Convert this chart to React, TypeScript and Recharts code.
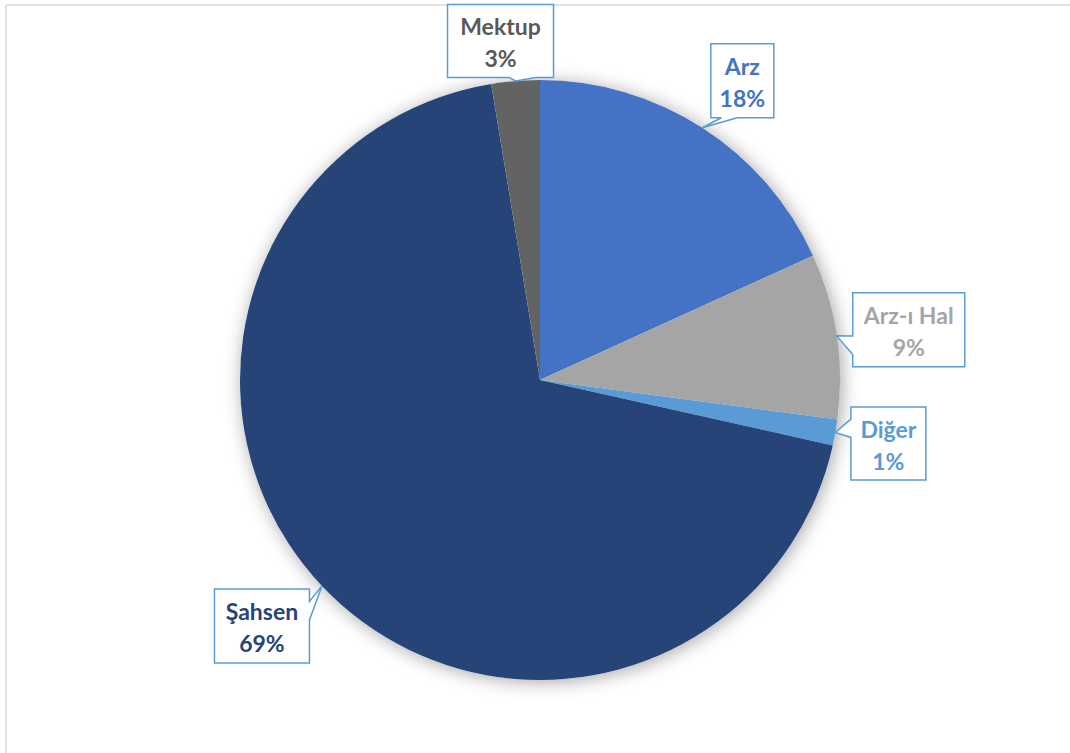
import { PieChart, Pie, Cell } from "recharts";

// values (percent of total), clockwise from 12 o'clock
const categories = ["Arz", "Arz-ı Hal", "Diğer", "Şahsen", "Mektup"];
const shares = [18.2, 8.9, 1.4, 68.9, 2.6];
const pctLabels = ["18%", "9%", "1%", "69%", "3%"];

const sliceColors = ["#4472C4", "#A5A5A5", "#5B9BD5", "#264478", "#636363"];
const textColors = ["#4472C4", "#A5A5A5", "#5B9BD5", "#264478", "#595959"];

// callout box: centre offset from the wedge tip, and box size
const callouts: Record<string, { dx: number; dy: number; w: number; h: number }> = {
  Arz: { dx: 40, dy: -47, w: 63, h: 74 },
  "Arz-ı Hal": { dx: 72, dy: -6, w: 112, h: 74 },
  Diğer: { dx: 53, dy: 11, w: 75, h: 73 },
  Şahsen: { dx: -60, dy: 40, w: 95, h: 74 },
  Mektup: { dx: -15, dy: -40, w: 106, h: 73 },
};

const pieData = categories.map((name, i) => ({ name, value: shares[i], pct: pctLabels[i] }));
const backdrop = [{ name: "bg", value: 1 }];

const RAD = Math.PI / 180;

// Excel-style wedgeRectCallout outline
function calloutPath(l: number, t: number, w: number, h: number, tx: number, ty: number) {
  const r = l + w;
  const b = t + h;
  const dx = tx - (l + w / 2);
  const dy = ty - (t + h / 2);
  const dq = (dx * h) / w;
  const vertical = Math.abs(dy) - Math.abs(dq) > 0;
  const x1 = l + (w * (dx > 0 ? 7 : 2)) / 12;
  const x2 = l + (w * (dx > 0 ? 10 : 5)) / 12;
  const y1 = t + (h * (dy > 0 ? 7 : 2)) / 12;
  const y2 = t + (h * (dy > 0 ? 10 : 5)) / 12;
  let d = `M${l},${t}`;
  if (vertical && dy < 0) d += ` L${x1},${t} L${tx},${ty} L${x2},${t}`;
  d += ` L${r},${t}`;
  if (!vertical && dx > 0) d += ` L${r},${y1} L${tx},${ty} L${r},${y2}`;
  d += ` L${r},${b}`;
  if (vertical && dy > 0) d += ` L${x2},${b} L${tx},${ty} L${x1},${b}`;
  d += ` L${l},${b}`;
  if (!vertical && dx < 0) d += ` L${l},${y2} L${tx},${ty} L${l},${y1}`;
  return d + " Z";
}

const renderCallout = (props: any) => {
  const { cx, cy, midAngle, outerRadius, index } = props;
  const name = categories[index];
  const c = callouts[name];
  const tx = cx + outerRadius * Math.cos(-midAngle * RAD);
  const ty = cy + outerRadius * Math.sin(-midAngle * RAD);
  const bx = tx + c.dx;
  const by = ty + c.dy;
  const l = bx - c.w / 2;
  const t = by - c.h / 2;
  return (
    <g key={`callout-${index}`}>
      <path
        d={calloutPath(l, t, c.w, c.h, tx, ty)}
        fill="#FFFFFF"
        stroke="#5B9BD5"
        strokeWidth={1.5}
      />
      <text
        x={bx}
        textAnchor="middle"
        fontFamily="Lato, 'Open Sans', sans-serif"
        fontWeight={700}
        fontSize={23}
        fill={textColors[index]}
      >
        <tspan x={bx} y={by - 6}>{name}</tspan>
        <tspan x={bx} y={by + 26}>{pctLabels[index]}</tspan>
      </text>
    </g>
  );
};

export default function App() {
  return (
    <div style={{ position: "absolute", left: 0, top: 0, width: 1070, height: 753, background: "#fff" }}>
      <svg width={1070} height={753} style={{ position: "absolute", left: 0, top: 0 }}>
        <line x1={6} y1={5} x2={1070} y2={5} stroke="#D9D9D9" strokeWidth={1.5} />
        <line x1={6} y1={5} x2={6} y2={753} stroke="#D9D9D9" strokeWidth={1.5} />
      </svg>
      <div style={{ position: "absolute", left: 0, top: 0 }}>
        <PieChart width={1070} height={753} margin={{ top: 0, right: 0, bottom: 0, left: 0 }}>
          <Pie
            data={backdrop}
            dataKey="value"
            cx={540}
            cy={380}
            outerRadius={300}
            stroke="none"
            isAnimationActive={false}
          >
            <Cell fill="#FFFFFF" style={{ filter: "drop-shadow(2px 2px 9px rgba(0,0,0,0.35))" }} />
          </Pie>
          <Pie
            data={pieData}
            dataKey="value"
            nameKey="name"
            cx={540}
            cy={380}
            outerRadius={300}
            startAngle={90}
            endAngle={-270}
            stroke="none"
            labelLine={false}
            label={renderCallout}
            isAnimationActive={false}
          >
            {pieData.map((d, i) => (
              <Cell key={d.name} fill={sliceColors[i]} />
            ))}
          </Pie>
        </PieChart>
      </div>
    </div>
  );
}
